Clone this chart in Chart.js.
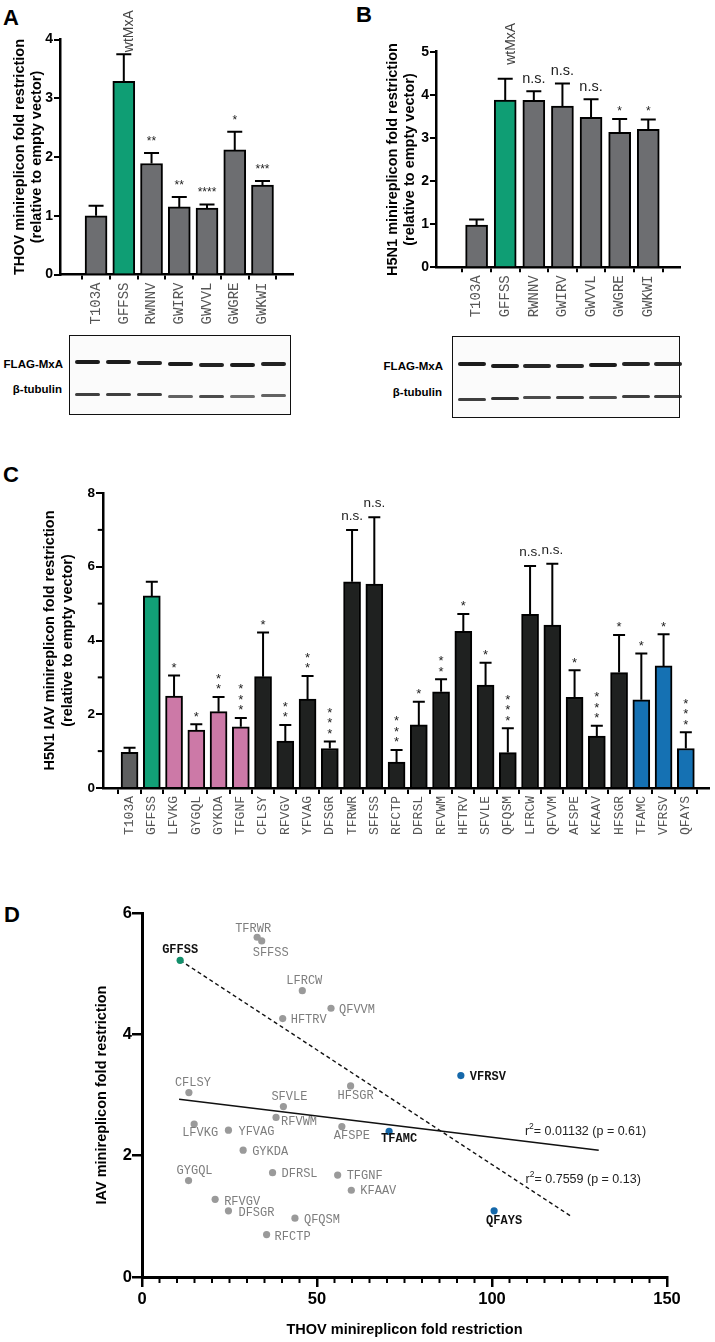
<!DOCTYPE html>
<html><head><meta charset="utf-8">
<script src="https://cdn.jsdelivr.net/npm/chart.js@4.4.1/dist/chart.umd.min.js"></script>
<style>
html,body{margin:0;padding:0;background:#fff}
body{width:715px;height:1342px;position:relative;overflow:hidden;font-family:'Liberation Sans',Arial,sans-serif}
canvas{position:absolute}
.letter{position:absolute;font:bold 22px/22px 'Liberation Sans',Arial,sans-serif;color:#000}
.blot{position:absolute;border:1.5px solid #111;background:#fbfbfb;box-sizing:border-box}
.band{position:absolute;border-radius:2px;background:#111;filter:blur(0.5px)}
.blab{position:absolute;font:bold 11.5px/12px 'Liberation Sans',Arial,sans-serif;text-align:right;color:#000;width:80px}
</style></head><body>
<div class="letter" style="left:3px;top:7px">A</div>
<div class="letter" style="left:356px;top:4px">B</div>
<div class="letter" style="left:3px;top:464px">C</div>
<div class="letter" style="left:4px;top:904px">D</div>
<canvas id="cA"></canvas>
<canvas id="cB"></canvas>
<canvas id="cC"></canvas>
<canvas id="cD"></canvas>
<div class="blot" id="blotA" style="left:69px;top:335px;width:222px;height:80px"></div>
<div class="blot" id="blotB" style="left:452px;top:336px;width:228px;height:82px"></div>
<div class="blab" style="left:-17px;top:358px">FLAG-MxA</div>
<div class="blab" style="left:-18px;top:383px">β-tubulin</div>
<div class="blab" style="left:363px;top:360px">FLAG-MxA</div>
<div class="blab" style="left:362px;top:386px">β-tubulin</div>
<script>
// ---------------- DATA ----------------
const catsAB = ['T103A','GFFSS','RWNNV','GWIRV','GWVVL','GWGRE','GWKWI'];
const groupAB = ['ctrl','wt','mut','mut','mut','mut','mut'];

const thovA    = [1.00, 3.29, 1.89, 1.15, 1.13, 2.12, 1.52];
const thovErrA = [0.17, 0.46, 0.18, 0.17, 0.06, 0.31, 0.07];
const sigA     = ['', 'wtMxA', '**', '**', '****', '*', '***'];

const h5n1B    = [0.98, 3.88, 3.87, 3.74, 3.48, 3.13, 3.20];
const h5n1ErrB = [0.13, 0.49, 0.21, 0.52, 0.42, 0.31, 0.23];
const sigB     = ['', 'wtMxA', 'n.s.', 'n.s.', 'n.s.', '*', '*'];

const catsC = ['T103A','GFFSS','LFVKG','GYGQL','GYKDA','TFGNF','CFLSY','RFVGV','YFVAG','DFSGR','TFRWR','SFFSS','RFCTP','DFRSL','RFVWM','HFTRV','SFVLE','QFQSM','LFRCW','QFVVM','AFSPE','KFAAV','HFSGR','TFAMC','VFRSV','QFAYS'];
const groupC = ['ctrl','wt','pink','pink','pink','pink','black','black','black','black','black','black','black','black','black','black','black','black','black','black','black','black','black','blue','blue','blue'];
const iavC    = [0.97,5.21,2.49,1.57,2.07,1.66,3.02,1.27,2.41,1.07,5.59,5.53,0.70,1.71,2.61,4.25,2.79,0.96,4.71,4.42,2.46,1.41,3.13,2.39,3.31,1.07];
const iavErrC = [0.12,0.38,0.56,0.16,0.40,0.24,1.20,0.44,0.63,0.19,1.41,1.81,0.33,0.63,0.34,0.47,0.61,0.66,1.31,1.66,0.73,0.28,1.02,1.26,0.86,0.44];
const sigC    = ['','','*','*','**','***','*','**','**','***','n.s.','n.s.','***','*','**','*','*','***','n.s.','n.s.','*','***','*','*','*','***'];

const dLabels = ['GFFSS','LFVKG','GYGQL','GYKDA','TFGNF','CFLSY','RFVGV','YFVAG','DFSGR','TFRWR','SFFSS','RFCTP','DFRSL','RFVWM','HFTRV','SFVLE','QFQSM','LFRCW','QFVVM','AFSPE','KFAAV','HFSGR','TFAMC','VFRSV','QFAYS'];
const dGroup  = ['wt','o','o','o','o','o','o','o','o','o','o','o','o','o','o','o','o','o','o','o','o','o','blue','blue','blue'];
const dThov   = [10.9,14.9,13.3,28.9,55.9,13.4,20.9,24.7,24.7,32.9,34.2,35.6,37.3,38.3,40.2,40.4,43.7,45.8,54.0,57.1,59.8,59.6,70.6,91.1,100.6];
const dIav    = [5.22,2.52,1.59,2.09,1.68,3.04,1.28,2.42,1.09,5.60,5.54,0.70,1.72,2.63,4.26,2.81,0.97,4.72,4.43,2.48,1.43,3.15,2.40,3.32,1.09];
const fitAllX = [10.6, 130.5];
const fitAllY = [2.93, 2.09];
const fitWtX  = [10.9, 122.6];
const fitWtY  = [5.22, 1.00];
const r2Texts = [['0.01132 (p = 0.61)', 109.4, 2.39], ['0.7559 (p = 0.13)', 109.6, 1.60]];

// ---------------- STYLE ----------------
const colAB = {ctrl:'#6d6e71', wt:'#0f9e74', mut:'#6d6e71'};
const colC  = {ctrl:'#5e5f60', wt:'#12a077', pink:'#cc79a7', black:'#1f2120', blue:'#1571b3'};
const colD  = {wt:'#138f6b', o:'#9a9a9a', blue:'#1568aa'};
// label offsets (dx, dy, align) for panel D
const dPlace = [[0,-10,'c'],[6,9,'c'],[6,-10,'c'],[9,2,'l'],[9,1,'l'],[4,-10,'c'],[9,2,'l'],[10,2,'l'],[10,2,'l'],[-4,-8,'c'],[9,12,'c'],[8,2,'l'],[9,1,'l'],[5,4,'l'],[8,1,'l'],[6,-10,'c'],[9,2,'l'],[2,-10,'c'],[8,2,'l'],[10,9,'c'],[9,1,'l'],[5,10,'c'],[10,8,'c'],[9,1,'l'],[10,10,'c']];
const dBold = ['GFFSS','TFAMC','VFRSV','QFAYS'];

Chart.defaults.font.family = "'Liberation Sans', Arial, sans-serif";
Chart.defaults.color = '#000';

function place(cv, b){ cv.width=b.W; cv.height=b.H; cv.style.left=b.L+'px'; cv.style.top=b.T+'px'; cv.style.width=b.W+'px'; cv.style.height=b.H+'px'; }

function starText(ctx, txt, x, cy, size){ ctx.font = size+'px "Liberation Sans", Arial'; ctx.textAlign='center'; ctx.textBaseline='alphabetic'; ctx.fillText(txt, x, cy + 0.57*size); }

function makeBar(id, box, area, xr, cats, vals, errs, sigs, colors, st){
  const cv = document.getElementById(id); place(cv, box);
  const errPlugin = {
    id:'errbars',
    afterDatasetsDraw(chart){
      const ctx = chart.ctx, y = chart.scales.y, meta = chart.getDatasetMeta(0);
      ctx.save(); ctx.strokeStyle='#000'; ctx.lineWidth=st.errLW; ctx.lineCap='butt';
      meta.data.forEach((bar,i)=>{
        const top = y.getPixelForValue(vals[i]+errs[i]);
        ctx.beginPath(); ctx.moveTo(bar.x, bar.y); ctx.lineTo(bar.x, top);
        ctx.moveTo(bar.x-st.cap/2, top); ctx.lineTo(bar.x+st.cap/2, top); ctx.stroke();
        const s = sigs[i]; if(!s) return;
        ctx.fillStyle = '#222';
        if (s === 'wtMxA'){
          ctx.save(); ctx.translate(bar.x+st.wtDx, top-st.wtDy); ctx.rotate(-Math.PI/2);
          ctx.font = st.wtFont+'px "Liberation Sans", Arial'; ctx.fillStyle='#444'; ctx.textAlign='left'; ctx.textBaseline='alphabetic';
          ctx.fillText(s,0,0); ctx.restore();
        } else if (s === 'n.s.'){
          ctx.font = st.nsFont+'px "Liberation Sans", Arial'; ctx.textAlign='center'; ctx.textBaseline='alphabetic';
          ctx.fillText(s, bar.x, top-st.nsGap+0.26*st.nsFont);
        } else if (st.stack){
          for (let k=0;k<s.length;k++) starText(ctx,'*',bar.x, top-st.starGap-k*st.starSp, st.starFont);
        } else {
          starText(ctx, s, bar.x, top-st.starGap, st.starFont);
        }
      });
      // minor y ticks
      if (st.minorY){
        ctx.lineWidth=2;
        st.minorY.forEach(v=>{ const py=y.getPixelForValue(v); ctx.beginPath(); ctx.moveTo(y.right-st.axisW/2-4,py); ctx.lineTo(y.right,py); ctx.stroke(); });
      }
      ctx.restore();
    }
  };
  return new Chart(cv, {
    type:'bar',
    data:{datasets:[{data: vals.map((v,i)=>({x:i,y:v})), backgroundColor: colors, borderColor:'#000', borderWidth: st.bw, barThickness: st.barW}]},
    options:{
      responsive:false, animation:false, devicePixelRatio:1,
      layout:{padding:{left:0, top: area.top-box.T, right: box.L+box.W-area.right, bottom:0}},
      plugins:{legend:{display:false}, tooltip:{enabled:false}},
      scales:{
        x:{type:'linear', min:xr[0], max:xr[1],
           afterFit: s=>{ s.height = box.T+box.H-area.bottom; },
           afterBuildTicks: s=>{ s.ticks = cats.map((c,i)=>({value:i})); },
           grid:{display:true, drawOnChartArea:false, drawTicks:true, tickLength:st.xTick, color:'#000', lineWidth:2},
           border:{display:true, color:'#000', width:st.axisW},
           ticks:{autoSkip:false, maxRotation:90, minRotation:90, padding:st.xPad, color:'#555',
                  font:{family:"'Liberation Mono', 'DejaVu Sans Mono', monospace", size:st.xFont},
                  callback:(v)=> (cats[v]!==undefined ? cats[v] : '')}},
        y:{min:0, max:st.yMax,
           afterFit: s=>{ s.width = area.left-box.L; },
           ticks:{stepSize:st.yStep, padding:1, color:'#000', font:{weight:'bold', size:st.yFont}},
           grid:{display:true, drawOnChartArea:false, drawTicks:true, tickLength:st.yTick, color:'#000', lineWidth:2},
           border:{display:true, color:'#000', width:st.axisW},
           title:{display:true, text:st.title, color:'#000', font:{weight:'bold', size:14.5, lineHeight:st.titleLH}, padding:{top:st.titlePad, bottom:0}}}
      }
    },
    plugins:[errPlugin]
  });
}

// Panel A
const chA = makeBar('cA', {L:0,T:0,W:300,H:330}, {left:60, right:293, top:39.5, bottom:274.5}, [-0.7, 6.5],
  catsAB, thovA, thovErrA, sigA, groupAB.map(g=>colAB[g]),
  {bw:2, barW:22, errLW:2, cap:15, axisW:2.5, xTick:5, xPad:3, xFont:14, yMax:4, yStep:1, yFont:14, yTick:6,
   title:['THOV minireplicon fold restriction','(relative to empty vector)'], titleLH:1.15, titlePad:12,
   starFont:12, starGap:15, nsFont:14.5, nsGap:12, wtDx:9, wtDy:2, wtFont:14});

// Panel B
const chB = makeBar('cB', {L:350,T:0,W:365,H:330}, {left:436, right:680, top:51.7, bottom:267.3}, [-0.81, 6.5],
  catsAB, h5n1B, h5n1ErrB, sigB, groupAB.map(g=>colAB[g]),
  {bw:2, barW:22, errLW:2, cap:15, axisW:2.5, xTick:5, xPad:3, xFont:14, yMax:5, yStep:1, yFont:14, yTick:6,
   title:['H5N1 minireplicon fold restriction','(relative to empty vector)'], titleLH:1.15, titlePad:35,
   starFont:12, starGap:11, nsFont:14.5, nsGap:12, wtDx:10, wtDy:14, wtFont:14});

// Panel C
const chC = makeBar('cC', {L:0,T:440,W:715,H:400}, {left:103, right:708.6, top:493, bottom:788}, [-0.67, 25.5],
  catsC, iavC, iavErrC, sigC, groupC.map(g=>colC[g]),
  {bw:2, barW:17, errLW:2, cap:12, axisW:2.5, xTick:6, xPad:2, xFont:13, yMax:8, yStep:2, yFont:13.5, yTick:7,
   title:['H5N1 IAV minireplicon fold restriction','(relative to empty vector)'], titleLH:1.24, titlePad:41,
   stack:true, starFont:13, starGap:11, starSp:10.5, nsFont:13.5, nsGap:13.5, minorY:[1,3,5,7]});

// Panel D
(function(){
  const box = {L:0,T:890,W:715,H:452}, area={left:142,right:667,top:913,bottom:1277};
  const cv = document.getElementById('cD'); place(cv, box);
  const labelPlugin = {
    id:'dlabels',
    afterDatasetsDraw(chart){
      const ctx=chart.ctx, xs=chart.scales.x, ys=chart.scales.y;
      ctx.save();
      // minor x ticks
      ctx.strokeStyle='#000'; ctx.lineWidth=2;
      for(let v=5; v<150; v+=5){ if(v%50===0) continue; const px=xs.getPixelForValue(v); ctx.beginPath(); ctx.moveTo(px, xs.top); ctx.lineTo(px, xs.top+6); ctx.stroke(); }
      dLabels.forEach((lab,i)=>{
        const px=xs.getPixelForValue(dThov[i]), py=ys.getPixelForValue(dIav[i]);
        const [dx,dy,al]=dPlace[i];
        const bold = dBold.includes(lab);
        ctx.font = (bold?'bold ':'')+'12px "Liberation Mono", "DejaVu Sans Mono", monospace';
        ctx.fillStyle = bold ? '#111' : '#7d7d7d';
        ctx.textAlign = al==='l' ? 'left' : 'center'; ctx.textBaseline='middle';
        ctx.fillText(lab, px+dx, py+dy);
      });
      ctx.fillStyle='#222'; ctx.textBaseline='middle'; ctx.textAlign='left';
      r2Texts.forEach(([t,xv,yv])=>{
        let px=xs.getPixelForValue(xv); const py=ys.getPixelForValue(yv);
        ctx.font='12.5px "Liberation Sans", Arial'; ctx.fillText('r',px,py); px+=ctx.measureText('r').width;
        ctx.font='8.5px "Liberation Sans", Arial'; ctx.fillText('2',px,py-5); px+=ctx.measureText('2').width;
        ctx.font='12.5px "Liberation Sans", Arial'; ctx.fillText('= '+t,px,py);
      });
      ctx.restore();
    }
  };
  new Chart(cv, {
    type:'scatter',
    data:{datasets:[
      {data: dThov.map((x,i)=>({x, y:dIav[i]})), pointRadius:3.6, pointBackgroundColor: dGroup.map(g=>colD[g]), pointBorderWidth:0, order:0},
      {data: fitAllX.map((x,i)=>({x, y:fitAllY[i]})), showLine:true, borderColor:'#111', borderWidth:1.6, pointRadius:0, order:1},
      {data: fitWtX.map((x,i)=>({x, y:fitWtY[i]})), showLine:true, borderColor:'#111', borderWidth:1.4, borderDash:[4,3], pointRadius:0, order:1}
    ]},
    options:{
      responsive:false, animation:false, devicePixelRatio:1,
      layout:{padding:{left:0, top:area.top-box.T, right:box.L+box.W-area.right, bottom:0}},
      plugins:{legend:{display:false}, tooltip:{enabled:false}},
      scales:{
        x:{type:'linear', min:0, max:150,
           afterFit: s=>{ s.height = box.T+box.H-area.bottom; },
           ticks:{stepSize:50, padding:3, color:'#000', font:{weight:'bold', size:16.5}},
           grid:{display:true, drawOnChartArea:false, drawTicks:true, tickLength:10, color:'#000', lineWidth:2.5},
           border:{display:true, color:'#000', width:3},
           title:{display:true, text:'THOV minireplicon fold restriction', color:'#000', font:{weight:'bold', size:14.5}, padding:{top:0,bottom:3}}},
        y:{type:'linear', min:0, max:6,
           afterFit: s=>{ s.width = area.left-box.L; },
           ticks:{stepSize:2, padding:0, color:'#000', font:{weight:'bold', size:16.5}},
           grid:{display:true, drawOnChartArea:false, drawTicks:true, tickLength:10, color:'#000', lineWidth:2.5},
           border:{display:true, color:'#000', width:3},
           title:{display:true, text:'IAV minireplicon fold restriction', color:'#000', font:{weight:'bold', size:14.5}, padding:{top:93,bottom:0}}}
      }
    },
    plugins:[labelPlugin]
  });
})();

// ---------------- Western blots (decoration) ----------------
function bands(id, first, step, flagY, tubY, w, flagA, tubA){
  const el = document.getElementById(id);
  flagY.forEach((yy,i)=>{
    const b=document.createElement('div'); b.className='band';
    b.style.cssText=`left:${first+step*i-w/2}px;top:${yy-2}px;width:${w}px;height:4px;opacity:${flagA[i]}`; el.appendChild(b);
    const t=document.createElement('div'); t.className='band';
    t.style.cssText=`left:${first+step*i-w/2}px;top:${tubY[i]-1.5}px;width:${w}px;height:3px;opacity:${tubA[i]}`; el.appendChild(t);
  });
}
bands('blotA', 17, 31, [26,26,27,28,29,29,28], [58,58,58,60,60,60,59], 25, [0.95,0.95,0.92,0.95,0.92,0.95,0.92], [0.8,0.8,0.8,0.65,0.75,0.6,0.65]);
bands('blotB', 19, 32.7, [27,29,29,29,28,27,27], [62,61,60,60,60,59,59], 28, [0.95,0.95,0.9,0.9,0.95,0.92,0.9], [0.8,0.85,0.75,0.8,0.75,0.8,0.8]);
</script>
</body></html>
